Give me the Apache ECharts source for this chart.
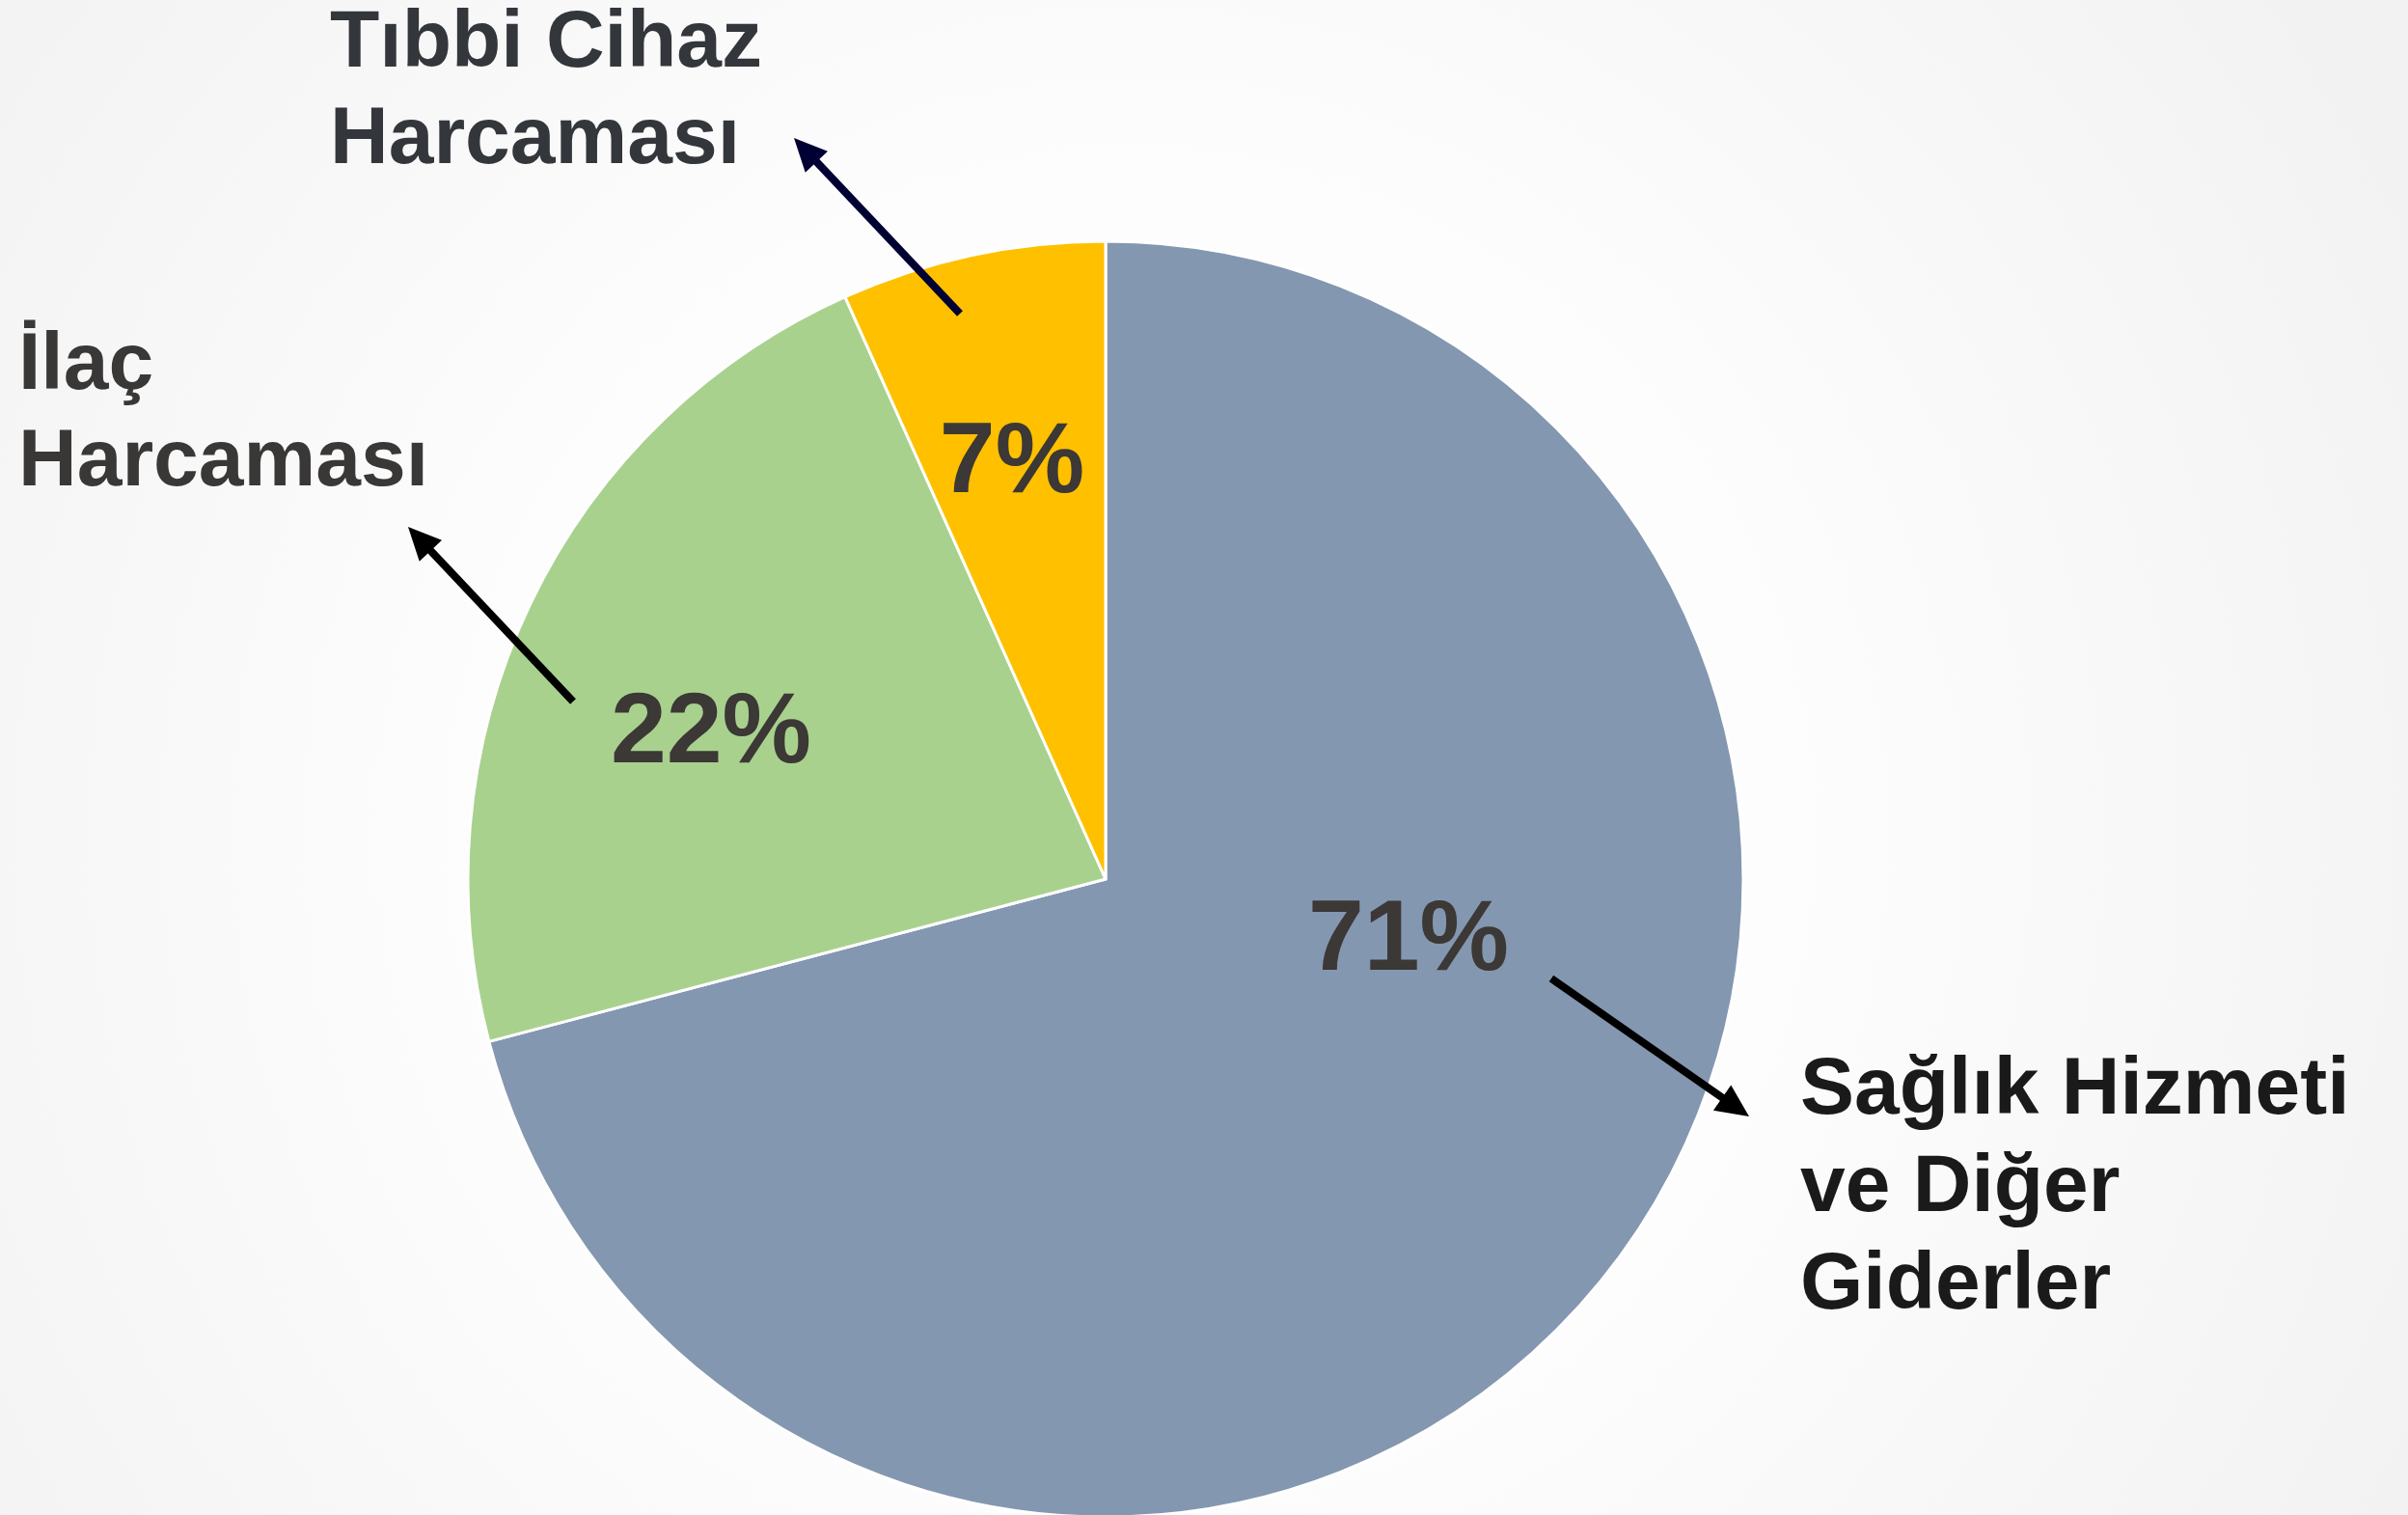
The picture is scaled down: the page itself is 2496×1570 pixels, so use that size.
<!DOCTYPE html>
<html>
<head>
<meta charset="utf-8">
<script src="https://cdn.jsdelivr.net/npm/echarts@6/dist/echarts.min.js"></script>
<style>
  html, body { margin: 0; padding: 0; }
  #chart { width: 2496px; height: 1570px; }
</style>
</head>
<body>
<div id="chart"></div>
<script>
// harcama kalemleri (slice sizes, labels round to 71 / 22 / 7)
var categories = ['Sağlık Hizmeti ve Diğer Giderler', 'İlaç Harcaması', 'Tıbbi Cihaz Harcaması']
var shares = [70.9, 22.4, 6.7]
var colors = ['#8497b0', '#a9d18e', '#ffc000']

// percent label spots inside the slices (px)
var labelSpots = [[1460, 976], [737, 761], [1049, 481]]

var myChart = echarts.init(document.getElementById('chart'))

function arrow (from, to, color) {
  var dx = to[0] - from[0]
  var dy = to[1] - from[1]
  var len = Math.sqrt(dx * dx + dy * dy)
  var ux = dx / len
  var uy = dy / len
  var headLen = 34
  var headW = 16
  var bx = to[0] - ux * headLen
  var by = to[1] - uy * headLen
  return [
    {
      type: 'line',
      shape: { x1: from[0], y1: from[1], x2: bx + ux * 4, y2: by + uy * 4 },
      style: { stroke: color, lineWidth: 8 },
      z: 10
    },
    {
      type: 'polygon',
      shape: { points: [to, [bx - uy * headW, by + ux * headW], [bx + uy * headW, by - ux * headW]] },
      style: { fill: color },
      z: 10
    }
  ]
}

var textFont = 'bold 84px "Liberation Sans", Arial, sans-serif'

var graphics = [].concat(
  arrow([995, 325], [823, 143], '#000033'),
  arrow([594, 727], [423, 546], '#000000'),
  arrow([1608, 1014], [1813, 1157], '#000000'),
  [
    {
      type: 'text',
      left: 342,
      top: -4,
      style: { text: 'Tıbbi Cihaz\nHarcaması', font: textFont, lineHeight: 100, fill: '#33363b' }
    },
    {
      type: 'text',
      left: 19,
      top: 330,
      style: { text: 'İlaç\nHarcaması', font: textFont, lineHeight: 100, fill: '#3a3836' }
    },
    {
      type: 'text',
      left: 1866,
      top: 1080,
      style: { text: 'Sağlık Hizmeti\nve Diğer\nGiderler', font: textFont, lineHeight: 101, fill: '#1a1a1a' }
    }
  ]
)

var option = {
  backgroundColor: {
    type: 'radial',
    x: 0.47,
    y: 0.55,
    r: 0.95,
    colorStops: [
      { offset: 0, color: '#ffffff' },
      { offset: 0.45, color: '#fdfdfd' },
      { offset: 1, color: '#f2f2f2' }
    ]
  },
  animation: false,
  graphic: graphics,
  series: [
    {
      type: 'pie',
      center: [1146, 911],
      radius: 661,
      startAngle: 90,
      clockwise: true,
      percentPrecision: 0,
      avoidLabelOverlap: false,
      itemStyle: {
        borderColor: '#ffffff',
        borderWidth: 3
      },
      label: {
        show: true,
        position: 'inside',
        formatter: '{d}%',
        fontFamily: '"Liberation Sans", Arial, sans-serif',
        fontWeight: 'bold',
        fontSize: 104,
        color: '#3b3836'
      },
      labelLine: { show: false },
      labelLayout: function (params) {
        var p = labelSpots[params.dataIndex]
        return { x: p[0], y: p[1], align: 'center', verticalAlign: 'middle' }
      },
      data: categories.map(function (name, i) {
        return { name: name, value: shares[i], itemStyle: { color: colors[i] } }
      })
    }
  ]
}

myChart.setOption(option)
window.onresize = myChart.resize
</script>
</body>
</html>
